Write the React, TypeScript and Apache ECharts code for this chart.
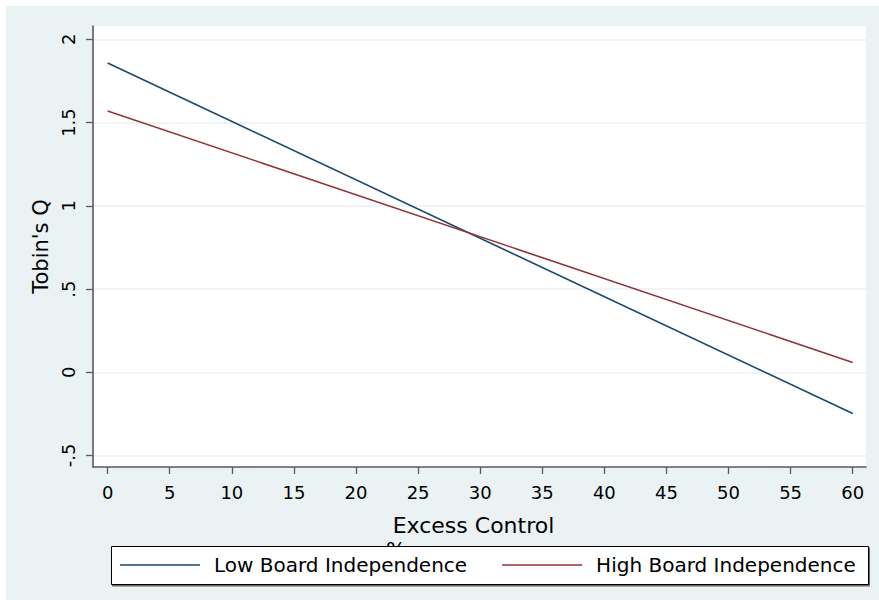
import React, { useEffect, useRef } from "react";
import * as echarts from "echarts";

const xTicks = [0, 5, 10, 15, 20, 25, 30, 35, 40, 45, 50, 55, 60];
const yTicks = [-0.5, 0, 0.5, 1, 1.5, 2];
const yTickLabels = ["-.5", "0", ".5", "1", "1.5", "2"];
const excessControl = [0, 60];
const lowBoard = [1.858, -0.248];
const highBoard = [1.57, 0.059];
const seriesNames = ["Low Board Independence", "High Board Independence"];
const xTitle = "Excess Control";
const xTitleLine2 = "%";
const yTitle = "Tobin's Q";

const FONT = "DejaVu Sans";
const BG = "#eaf2f3";

export default function App() {
  const ref = useRef<HTMLDivElement>(null);
  useEffect(() => {
    if (!ref.current) return;
    const chart = echarts.init(ref.current, undefined, { renderer: "svg" });
    const axisColor = "#5a5a5a";
    chart.setOption({
      animation: false,
      backgroundColor: BG,
      textStyle: { fontFamily: FONT },
      grid: {
        left: 87,
        top: 20,
        right: 13,
        bottom: 133,
        show: true,
        backgroundColor: "#ffffff",
        borderWidth: 0,
        containLabel: false,
      },
      xAxis: {
        type: "value",
        min: -1.18,
        max: 61.07,
        name: xTitle,
        nameLocation: "middle",
        nameGap: 47,
        nameTextStyle: { fontSize: 22, color: "#000", fontFamily: FONT, padding: [0, 12, 0, 0] },
        axisLine: { show: true, onZero: false, lineStyle: { color: axisColor, width: 1.6 } },
        axisTick: { show: true, customValues: xTicks, length: 7, lineStyle: { color: axisColor, width: 1.3 } },
        axisLabel: { customValues: xTicks, fontSize: 18, color: "#000", margin: 16, fontFamily: FONT },
        splitLine: { show: false },
      },
      yAxis: {
        type: "value",
        min: -0.569,
        max: 2.08,
        name: yTitle,
        nameLocation: "middle",
        nameGap: 35,
        nameRotate: 90,
        nameTextStyle: { fontSize: 21, color: "#000", fontFamily: FONT },
        axisLine: { show: true, onZero: false, lineStyle: { color: axisColor, width: 1.6 } },
        axisTick: { show: true, customValues: yTicks, length: 7, lineStyle: { color: axisColor, width: 1.3 } },
        axisLabel: {
          customValues: yTicks,
          rotate: 90,
          fontSize: 18,
          color: "#000",
          margin: 16,
          fontFamily: FONT,
          formatter: (v: number) => {
            const i = yTicks.findIndex((t) => Math.abs(t - v) < 1e-6);
            return i >= 0 ? yTickLabels[i] : "";
          },
        },
        splitLine: { show: true, lineStyle: { color: BG, width: 1.6 } },
      },
      legend: {
        left: 114,
        top: 547,
        padding: 0,
        icon: "rect",
        itemWidth: 80,
        itemHeight: 1.6,
        itemGap: 35,
        textStyle: { fontSize: 20, color: "#000", fontFamily: FONT, padding: [0, 0, 0, 9], lineHeight: 24 },
        data: seriesNames,
        z: 20,
      },
      graphic: [
        {
          type: "text",
          left: 380,
          top: 534,
          z: 1,
          style: { text: xTitleLine2, fontSize: 21, fill: "#000", fontFamily: FONT },
        },
        {
          type: "rect",
          left: 105,
          top: 540,
          z: 10,
          shape: { width: 757, height: 38 },
          style: {
            fill: "#ffffff",
            stroke: "#000",
            lineWidth: 1,
            shadowColor: "#666",
            shadowOffsetX: 1,
            shadowOffsetY: 1.5,
            shadowBlur: 0,
          },
        },
      ],
      series: [
        {
          name: seriesNames[0],
          type: "line",
          data: excessControl.map((x, i) => [x, lowBoard[i]]),
          symbol: "none",
          lineStyle: { color: "#1a476f", width: 1.6 },
          itemStyle: { color: "#1a476f" },
          z: 3,
        },
        {
          name: seriesNames[1],
          type: "line",
          data: excessControl.map((x, i) => [x, highBoard[i]]),
          symbol: "none",
          lineStyle: { color: "#90353b", width: 1.6 },
          itemStyle: { color: "#90353b" },
          z: 3,
        },
      ],
    });
    return () => chart.dispose();
  }, []);
  return (
    <div
      ref={ref}
      style={{ position: "fixed", left: 6, top: 6, width: 873, height: 594, background: BG }}
    />
  );
}
